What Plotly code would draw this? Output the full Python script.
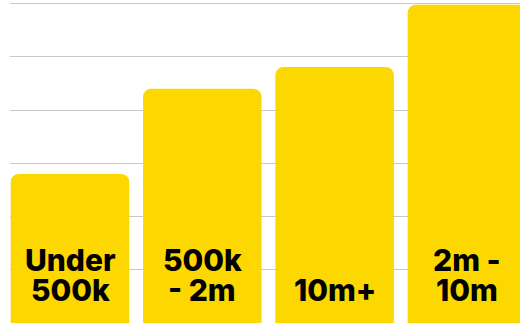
import plotly.graph_objects as go

# Revenue bands and their bar heights
categories = ["Under 500k", "500k - 2m", "10m+", "2m - 10m"]
values = [28.0, 44.0, 48.1, 59.8]
# Labels written inside each bar, one entry per text line (top to bottom)
label_lines = [["Under", "500k"], ["500k", "- 2m"], ["10m+"], ["2m -", "10m"]]

BAR_COLOR = "#FDD800"
GRID_COLOR = "#C8C8C8"
FONT = dict(family="Inter", size=30, color="#000000", weight=800)

fig = go.Figure(
    go.Bar(
        x=list(range(len(categories))),
        y=values,
        marker=dict(color=BAR_COLOR, line=dict(width=0)),
        hoverinfo="skip",
    )
)

# Category labels stacked from the bottom of each bar upward
line_offsets = [33, 63.5]
annotations = []
for i, lines in enumerate(label_lines):
    for j, text in enumerate(reversed(lines)):
        annotations.append(
            dict(
                x=i, y=0, xref="x", yref="y",
                text=text, showarrow=False,
                xanchor="center", yanchor="middle",
                yshift=line_offsets[j],
                font=FONT,
            )
        )

fig.update_layout(
    width=520, height=323,
    margin=dict(l=10, r=0, t=0, b=0),
    paper_bgcolor="white", plot_bgcolor="white",
    bargap=0.104,
    barcornerradius=8,
    showlegend=False,
    annotations=annotations,
    xaxis=dict(range=[-0.4535, 3.401], showgrid=False, zeroline=False,
               showticklabels=False, ticks="", fixedrange=True),
    yaxis=dict(range=[0, 60.7], dtick=10, showgrid=True, gridcolor=GRID_COLOR,
               gridwidth=1, zeroline=False, showticklabels=False, ticks="",
               fixedrange=True),
)

fig.write_html("out.html", config={"displayModeBar": False})
